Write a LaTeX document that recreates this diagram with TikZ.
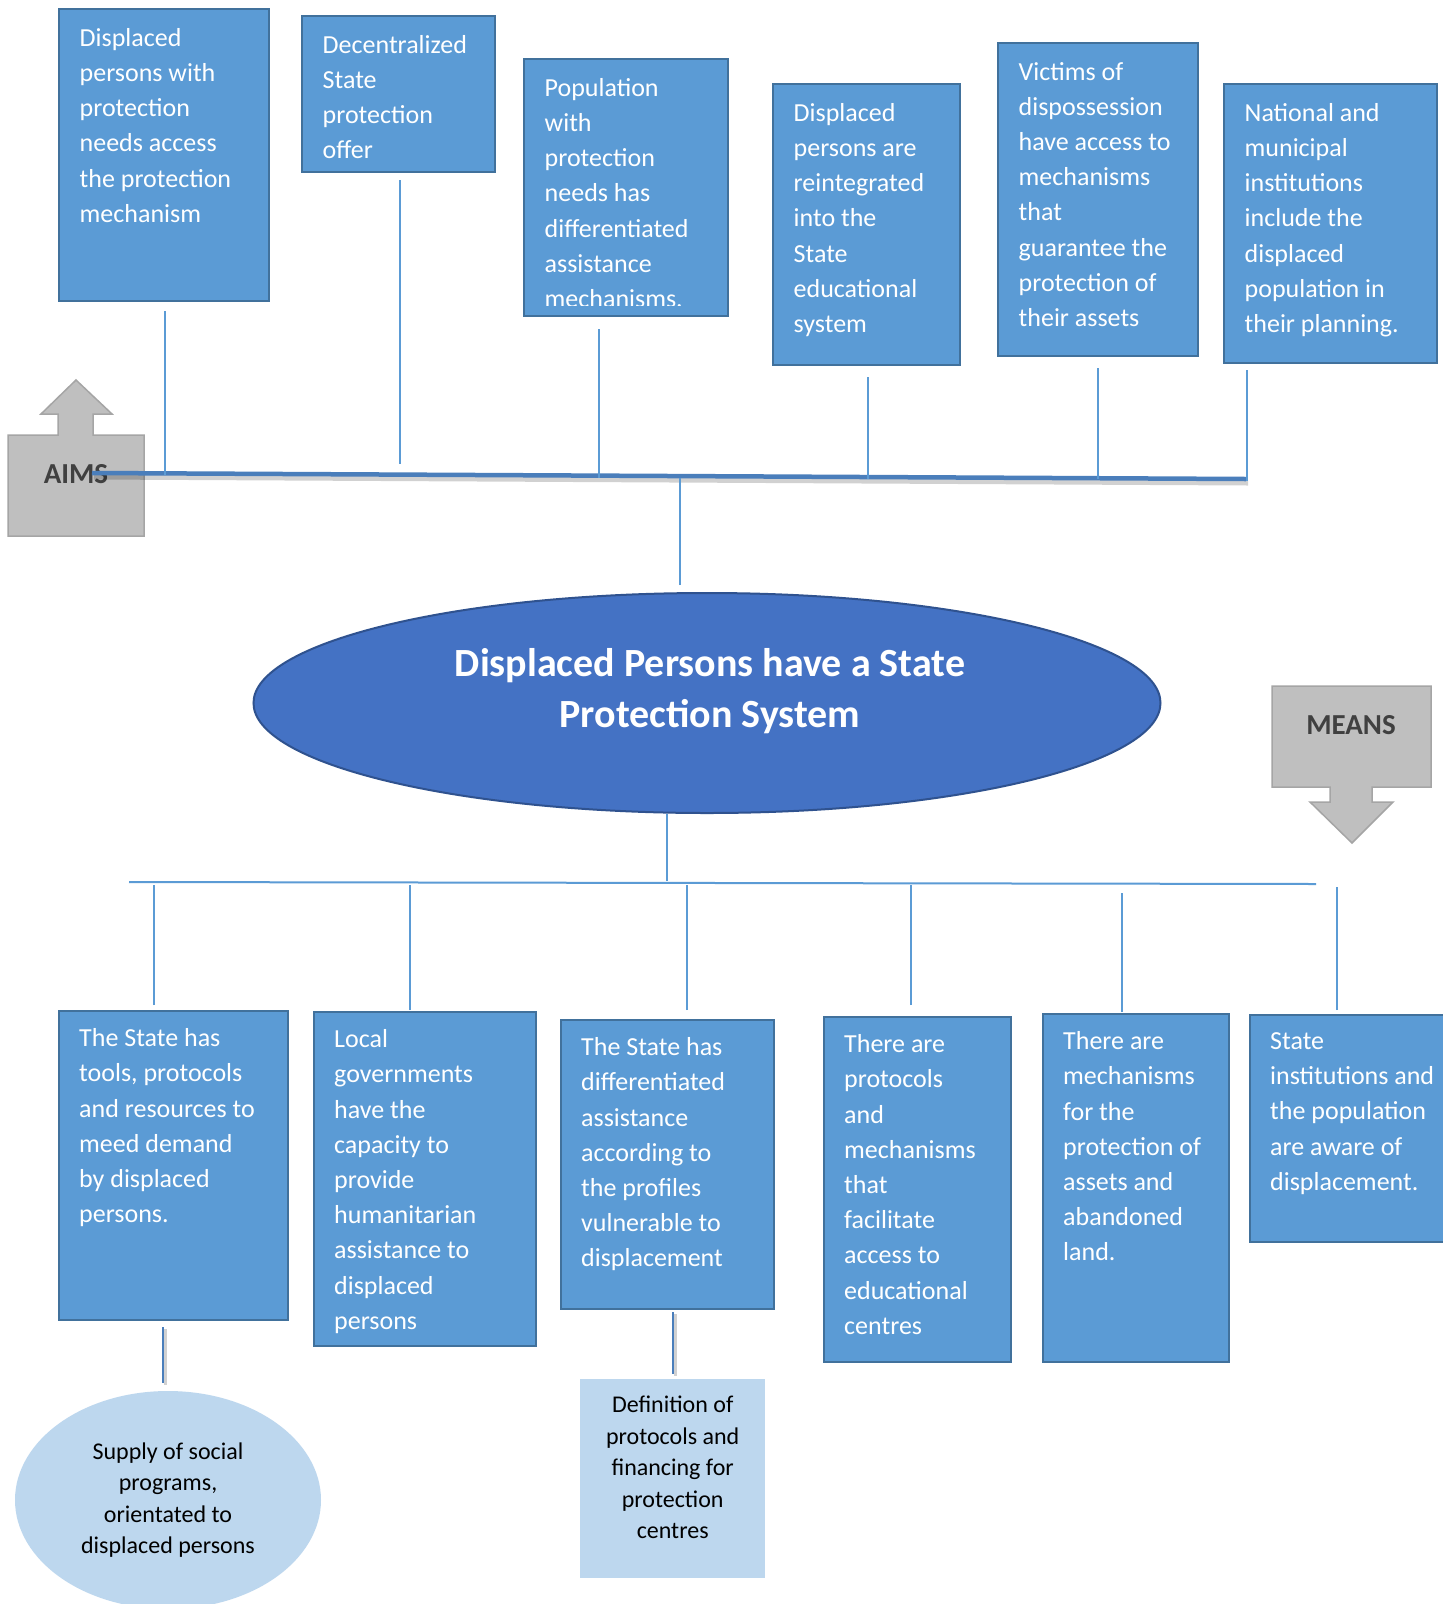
\documentclass[tikz,border=0pt]{standalone}
\usepackage{fontspec}
\setmainfont{Carlito}
\usetikzlibrary{calc,shapes.geometric,positioning}
\definecolor{boxblue}{HTML}{5B9BD5}
\definecolor{boxedge}{HTML}{41719C}
\definecolor{ovalblue}{HTML}{4472C4}
\definecolor{ovaledge}{HTML}{2F528F}
\definecolor{paleblue}{HTML}{BDD7EE}
\definecolor{arrowgray}{HTML}{BFBFBF}
\definecolor{arrowedge}{HTML}{A5A5A5}
\definecolor{labelgray}{HTML}{404040}
\definecolor{barblue}{HTML}{4A7EBB}
\begin{document}
\begin{tikzpicture}[x=1pt, y=-1pt,
    aimbox/.style={draw=boxedge, line width=2.2pt, fill=boxblue, anchor=north west, inner sep=0pt},
    boxtext/.style={text=white, align=left, anchor=north west, inner sep=0pt, font=\fontsize{26}{35.2}\selectfont},
    paletext/.style={align=center, inner sep=0pt, font=\fontsize{24}{31.5}\selectfont},
    vline/.style={boxblue, line width=2pt},
    stemline/.style={barblue, line width=2.5pt},
    shadowline/.style={black, opacity=0.18, line width=5pt},
    blockarrow/.style={fill=arrowgray, draw=arrowedge, line width=1.5pt},
    arrowlabel/.style={text=labelgray, inner sep=0pt, font=\fontsize{29}{35}\selectfont\bfseries}]
  \fill[white] (0,0) rectangle (1443,1604);
  \useasboundingbox (0,0) rectangle (1443,1604);

  % AIMS block arrow
  \draw[blockarrow] (8,435) -- (58,435) -- (58,414) -- (41,414) -- (76,380) -- (112,414)
    -- (93,414) -- (93,435) -- (144,435) -- (144,536) -- (8,536) -- cycle;
  \node[arrowlabel] (aims) at (76,474.5) {AIMS};

  % MEANS block arrow
  \draw[blockarrow] (1272,686) -- (1431,686) -- (1431,787) -- (1372,787) -- (1372,802) -- (1393,802)
    -- (1352,843) -- (1310,802) -- (1330,802) -- (1330,787) -- (1272,787) -- cycle;
  \node[arrowlabel] (means) at (1351,725.5) {MEANS};

  % aims row
  \node[aimbox, minimum width=210pt, minimum height=292pt] (a1) at (58,8) {};
  \node[aimbox, minimum width=193pt, minimum height=156pt] (a2) at (301,15) {};
  \node[aimbox, minimum width=204pt, minimum height=257pt] (a3) at (523,58) {};
  \node[aimbox, minimum width=187pt, minimum height=281pt] (a4) at (772,83) {};
  \node[aimbox, minimum width=200pt, minimum height=313pt] (a5) at (997,42) {};
  \node[aimbox, minimum width=213pt, minimum height=279pt] (a6) at (1223,83) {};

  \node[boxtext] (a1t) at ($(a1.north west)+(21.5,20)$) {Displaced\\persons with\\protection\\needs access\\the protection\\mechanism};
  \node[boxtext] (a2t) at ($(a2.north west)+(21.5,20)$) {Decentralized\\State\\protection\\offer};
  \begin{scope}
    \clip (a3.north west) rectangle ($(a3.south east)+(0,-12)$); % text runs out of the box
    \node[boxtext] (a3t) at ($(a3.north west)+(21.5,20)$) {Population\\with\\protection\\needs has\\differentiated\\assistance\\mechanisms.};
  \end{scope}
  \node[boxtext] (a4t) at ($(a4.north west)+(21.5,20)$) {Displaced\\persons are\\reintegrated\\into the\\State\\educational\\system};
  \node[boxtext] (a5t) at ($(a5.north west)+(21.5,20)$) {Victims of\\dispossession\\have access to\\mechanisms\\that\\guarantee the\\protection of\\their assets};
  \node[boxtext] (a6t) at ($(a6.north west)+(21.5,20)$) {National and\\municipal\\institutions\\include the\\displaced\\population in\\their planning.};

  % aims bar
  \coordinate (barL) at (92,473);
  \coordinate (barR) at (1246,479);
  \draw[shadowline] ($(barL)+(2,4)$) -- ($(barR)+(2,4)$);
  \draw[barblue, line width=4.5pt] (barL) -- (barR);
  \draw[vline] (a1.south) ++(1,9) -- ++(0,164);
  \draw[vline] (a2.south) ++(1.5,7) -- ++(0,284);
  \draw[vline] (a3.south) ++(-27,12) -- ++(0,149);
  \draw[vline] (a4.south) ++(1.5,11) -- ++(0,102);
  \draw[vline] (a5.south) ++(0,11) -- ++(0,111);
  \draw[vline] (a6.south) ++(-83.5,6) -- ++(0,111);

  % central goal
  \node[ellipse, draw=ovaledge, fill=ovalblue, line width=2pt, minimum width=907pt, minimum height=220pt, inner sep=0pt] (goal) at (707,703) {};
  \node[text=white, align=center, inner sep=0pt, font=\fontsize{40}{51}\selectfont\bfseries] (goalt) at (710,691) {Displaced Persons have a State\\Protection System};
  \draw[vline] (goal.north) ++(-27,-7) -- ++(0,-107);
  \draw[vline] (goal.south) ++(-40,0) -- ++(0,67);

  % means row
  \coordinate (rowL) at (129,882);
  \coordinate (rowR) at (1316,884);
  \draw[vline] (rowL) -- (rowR);
  \node[aimbox, minimum width=229pt, minimum height=309pt] (b1) at (58,1010) {};
  \node[aimbox, minimum width=222pt, minimum height=334pt] (b2) at (313,1011) {};
  \node[aimbox, minimum width=213pt, minimum height=289pt] (b3) at (560,1019) {};
  \node[aimbox, minimum width=187pt, minimum height=345pt] (b4) at (823,1016) {};
  \node[aimbox, minimum width=186pt, minimum height=348pt] (b5) at (1042,1013) {};
  \node[aimbox, minimum width=220pt, minimum height=227pt] (b6) at (1249,1014) {};

  \node[boxtext] (b1t) at ($(b1.north west)+(21,18.5)$) {The State has\\tools, protocols\\and resources to\\meed demand\\by displaced\\persons.};
  \node[boxtext] (b2t) at ($(b2.north west)+(21,18.5)$) {Local\\governments\\have the\\capacity to\\provide\\humanitarian\\assistance to\\displaced\\persons};
  \node[boxtext] (b3t) at ($(b3.north west)+(21,18.5)$) {The State has\\differentiated\\assistance\\according to\\the profiles\\vulnerable to\\displacement};
  \node[boxtext] (b4t) at ($(b4.north west)+(21,18.5)$) {There are\\protocols\\and\\mechanisms\\that\\facilitate\\access to\\educational\\centres};
  \node[boxtext] (b5t) at ($(b5.north west)+(21,18.5)$) {There are\\mechanisms\\for the\\protection of\\assets and\\abandoned\\land.};
  \node[boxtext] (b6t) at ($(b6.north west)+(21,18.5)$) {State\\institutions and\\the population\\are aware of\\displacement.};

  \draw[vline] (b1.north) ++(-19.5,-5) -- ++(0,-120);
  \draw[vline] (b2.north) ++(-15,-1) -- ++(0,-125);
  \draw[vline] (b3.north) ++(19,-9) -- ++(0,-125);
  \draw[vline] (b4.north) ++(-6.5,-11) -- ++(0,-120);
  \draw[vline] (b5.north) ++(-14,-1) -- ++(0,-119);
  \draw[vline] (b6.north) ++(-23.5,-4) -- ++(0,-123);

  % lower results
  \node[ellipse, fill=paleblue, minimum width=306pt, minimum height=218pt, inner sep=0pt, paletext] (c1) at (168,1500) {Supply of social\\programs,\\orientated to\\displaced persons};
  \node[fill=paleblue, anchor=north west, minimum width=185pt, minimum height=199pt, inner sep=0pt] (c2) at (580,1379) {};
  \node[paletext] (c2t) at ($(c2.center)+(0,-11)$) {Definition of\\protocols and\\financing for\\protection\\centres};
  \draw[shadowline, line width=3pt] (b1.south) ++(-8.5,8) -- ++(0,56);
  \draw[stemline] (b1.south) ++(-10.5,6) -- ++(0,56);
  \draw[shadowline, line width=3pt] (b3.south) ++(7.5,4) -- ++(0,62);
  \draw[stemline] (b3.south) ++(5.5,2) -- ++(0,62);
\end{tikzpicture}
\end{document}
